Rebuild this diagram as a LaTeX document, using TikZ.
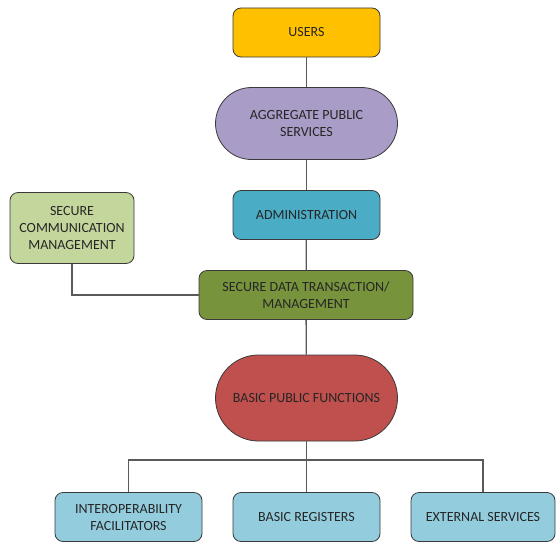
\documentclass[tikz,border=0pt]{standalone}
\usepackage{fontspec}
\setsansfont{Carlito}
\usetikzlibrary{positioning}
\definecolor{cusers}{HTML}{FFC000}
\definecolor{cagg}{HTML}{A99CC7}
\definecolor{cadmin}{HTML}{4BACC6}
\definecolor{cscm}{HTML}{C3D69B}
\definecolor{csdt}{HTML}{77933C}
\definecolor{cbpf}{HTML}{C0504D}
\definecolor{cbase}{HTML}{93CDDD}
\definecolor{cedge}{HTML}{3A3A3A}
\definecolor{cgrey}{HTML}{5A5A5A}
\definecolor{ctext}{HTML}{262626}
\tikzset{
  every picture/.style={font=\sffamily, line width=0.8pt},
  box/.style={draw=cedge, fill=#1, rounded corners=8pt, align=center, text=ctext,
    minimum width=147pt, minimum height=49pt, inner sep=3pt,
    font=\sffamily\fontsize{14}{17}\selectfont},
  box/.default=cbase,
  pill/.style={box=#1, rounded corners=36pt, minimum width=182pt, minimum height=72pt},
  link/.style={draw=cgrey, line width=1.3pt},
}
\begin{document}
\begin{tikzpicture}[x=1pt, y=-1pt]
  \useasboundingbox (0,0) rectangle (556,543);
  % main column
  \node[box=cusers] (users) at (306.5,32.5) {USERS};
  \node[pill=cagg] (agg) at (306.5,123.5) {AGGREGATE PUBLIC\\SERVICES};
  \node[box=cadmin] (admin) at (306.5,215) {ADMINISTRATION};
  \node[box=csdt, minimum width=214pt] (sdt) at (306,295) {SECURE DATA TRANSACTION/\\MANAGEMENT};
  \node[pill=cbpf, rounded corners=43pt, minimum height=86pt] (bpf) at (306.5,398) {BASIC PUBLIC FUNCTIONS};
  % side box
  \node[box=cscm, minimum width=124pt, minimum height=71pt] (scm) at (72,228) {SECURE\\COMMUNICATION\\MANAGEMENT};
  % bottom row
  \node[box] (interop) at (128.5,517) {INTEROPERABILITY\\FACILITATORS};
  \node[box] (regs) at (306.5,517) {BASIC REGISTERS};
  \node[box, minimum width=144pt] (ext) at (483,517) {EXTERNAL SERVICES};
  \coordinate (bus) at (306.5,460);
  % connectors
  \draw[link] (users) -- (agg);
  \draw[link] (agg) -- (admin);
  \draw[link] (admin) -- (sdt);
  \draw[link] (sdt) -- (bpf);
  \draw[link] (scm.south) |- (sdt.west);
  \draw[link] (bpf.south) -- (regs.north);
  \draw[link] (interop.north) |- (bus) -| (ext.north);
\end{tikzpicture}
\end{document}
